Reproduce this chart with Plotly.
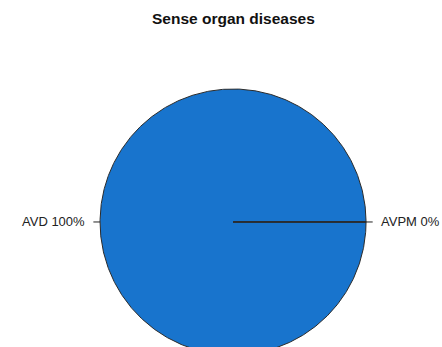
import numpy as np
import plotly.graph_objects as go

# Share of cases by category
categories = ["AVD", "AVPM"]
values = [100, 0]
title = "Sense organ diseases"

fill_colors = ["#1874CD", "#1874CD"]
border_color = "#2b2b2b"

total = sum(values)
fractions = [v / total for v in values]
cum = np.concatenate([[0.0], np.cumsum(fractions)])

fig = go.Figure()

# Pie wedges drawn as filled polygons (start at 3 o'clock, counter-clockwise)
for i, cat in enumerate(categories):
    a0, a1 = 2 * np.pi * cum[i], 2 * np.pi * cum[i + 1]
    n = max(2, int(np.ceil(720 * (a1 - a0) / (2 * np.pi))) + 1)
    t = np.linspace(a0, a1, n)
    xs = np.concatenate([[0.0], np.cos(t), [0.0]])
    ys = np.concatenate([[0.0], np.sin(t), [0.0]])
    fig.add_trace(go.Scatter(
        x=xs, y=ys, mode="lines", fill="toself",
        fillcolor=fill_colors[i],
        line=dict(color=border_color, width=1),
        hoverinfo="skip", showlegend=False,
    ))

# Leader ticks and labels at each wedge's mid angle
annotations = []
for i, cat in enumerate(categories):
    mid = np.pi * (cum[i] + cum[i + 1])
    c, s = np.cos(mid), np.sin(mid)
    fig.add_trace(go.Scatter(
        x=[c, 1.05 * c], y=[s, 1.05 * s], mode="lines",
        line=dict(color="#222222", width=1),
        hoverinfo="skip", showlegend=False,
    ))
    annotations.append(dict(
        x=1.1 * c, y=1.1 * s, xref="x", yref="y",
        text=f"{cat} {values[i]:.0f}%", showarrow=False,
        xanchor="right" if c < 0 else "left", yanchor="middle",
        font=dict(family="Liberation Sans, Arial, sans-serif", size=13, color="#222222"),
    ))

annotations.append(dict(
    x=0.528, y=18, xref="paper", yref="paper",
    text=f"<b>{title}</b>", showarrow=False,
    xanchor="center", yanchor="middle",
    font=dict(family="Liberation Sans, Arial, sans-serif", size=15.5, color="#111111"),
))
# title y given in pixels from top -> convert to paper fraction
annotations[-1]["y"] = 1 - 18 / 347

fig.update_layout(
    width=442, height=347,
    margin=dict(l=0, r=0, t=0, b=0),
    paper_bgcolor="white", plot_bgcolor="white",
    xaxis=dict(range=[-1.752, 1.571], visible=False, fixedrange=True),
    yaxis=dict(range=[-0.940, 1.669], visible=False, fixedrange=True),
    annotations=annotations,
    showlegend=False,
)

fig.write_html("out.html")
